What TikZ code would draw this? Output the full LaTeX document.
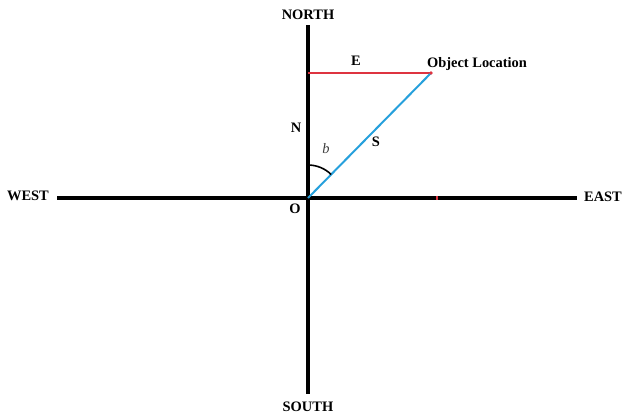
\documentclass[tikz,border=0pt]{standalone}
\usepackage{fontspec}
\setmainfont{Liberation Serif}
\definecolor{myred}{RGB}{222,52,64}
\definecolor{myblue}{RGB}{38,160,220}
\definecolor{bgray}{RGB}{60,60,60}
\begin{document}
\begin{tikzpicture}[x=1bp,y=-1bp,
  lbl/.style={font=\fontsize{14.5}{16}\selectfont\bfseries, inner sep=0pt, anchor=base},
  axis/.style={line width=4bp, black},
  redline/.style={line width=2bp, draw=myred},
  blueline/.style={line width=2bp, draw=myblue}]
\useasboundingbox (0,0) rectangle (623,418);
\coordinate (O) at (308,198);
\coordinate (Ntop) at (308,25);
\coordinate (Sbot) at (308,394);
\coordinate (Wend) at (57,198);
\coordinate (Eend) at (577,198);
\coordinate (Nfoot) at (308,73);
\coordinate (Obj) at (431,73);
\coordinate (tick) at (437,198);
\draw[axis] (Wend) -- (Eend);
\draw[axis] (Ntop) -- (Sbot);
\draw[redline] (Nfoot) -- (Obj);
\draw[blueline] (O) -- (Obj);
\fill[myred] (Obj) circle (1.8bp);
\draw[myred, line width=1.2bp] ([yshift=-2bp]tick) -- ([yshift=2bp]tick);
\draw[line width=1.6bp] ([yshift=33bp]O) arc[start angle=90, end angle=45.5, radius=33bp];
\node[lbl] (north) at (308,19) {NORTH};
\node[lbl] (south) at (308,411) {SOUTH};
\node[lbl] (west) at (28,200) {WEST};
\node[lbl] (east) at (603,201) {EAST};
\node[lbl] (olab) at (295,213) {O};
\node[lbl] (nlab) at (296,132) {N};
\node[lbl] (elab) at (356,65) {E};
\node[lbl] (slab) at (376,146) {S};
\node[lbl] (objlab) at (477,67) {Object Location};
\node[inner sep=0pt, anchor=base, font=\fontsize{14.5}{16}\selectfont\itshape, text=bgray] (blab) at (326,153) {b};
\end{tikzpicture}
\end{document}
